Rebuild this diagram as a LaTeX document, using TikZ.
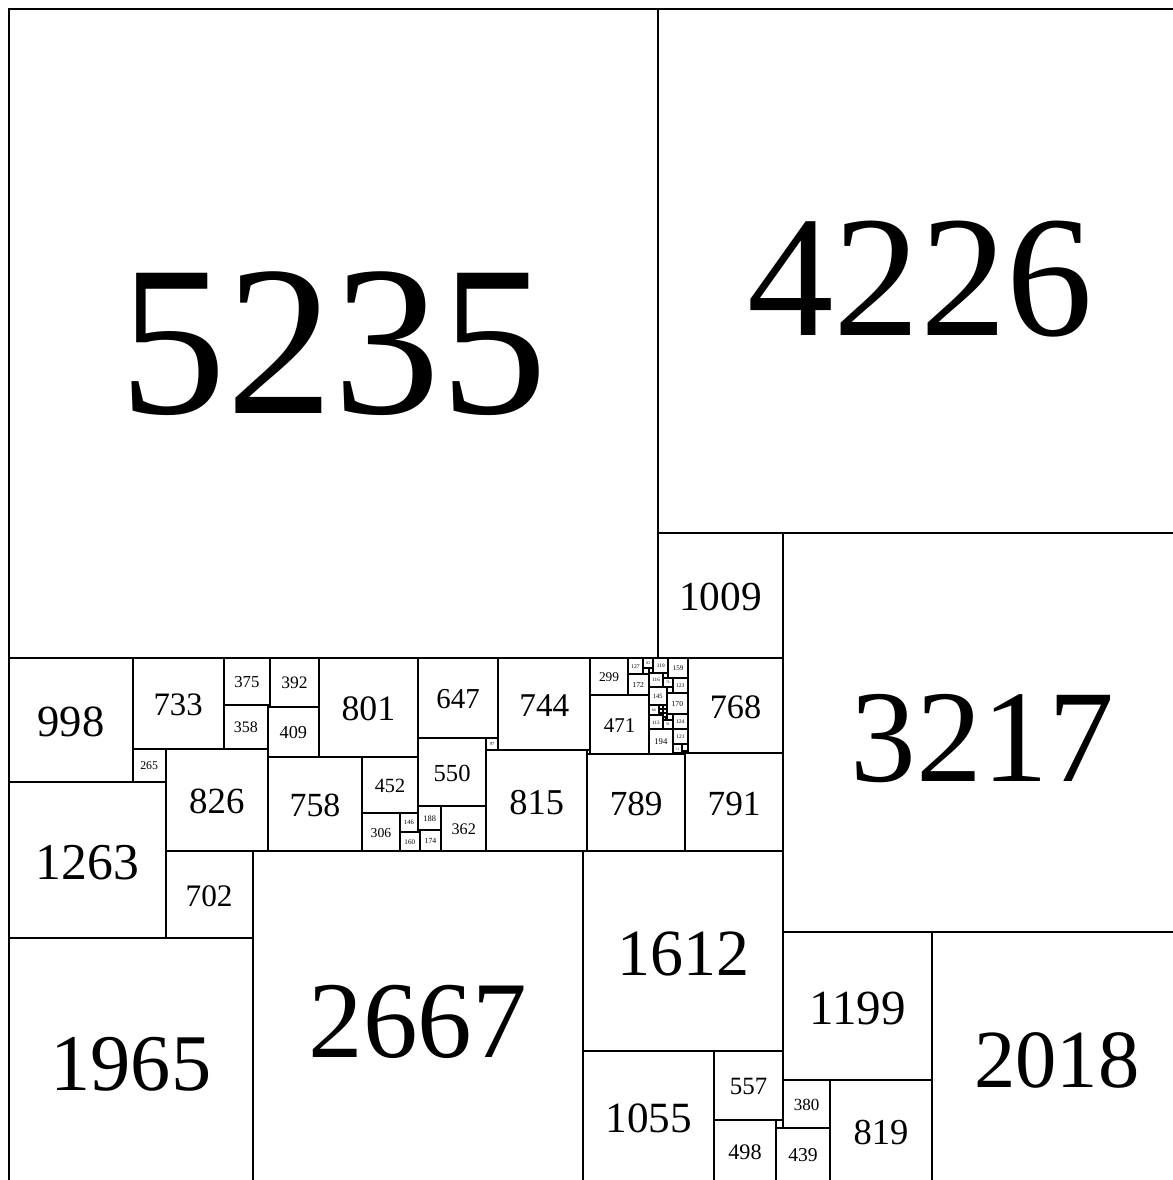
\documentclass[tikz,border=0pt]{standalone}
\usepackage{fontspec}
\setmainfont{Liberation Serif}
\tikzset{
  sqline/.style={draw=black, line width=1pt},
  sqlabel/.style={inner sep=0pt, outer sep=0pt, text=black}
}
\newcommand\sqbox[4]{%
  \draw[sqline] (#2,#3) rectangle ++(#4,#4);
  \pgfmathsetmacro\sqfs{#4>=1000 ? 0.020457*#4 : (#4>=100 ? 0.022317*#4 : 0.023557*#4)}%
  \node[sqlabel, font=\fontsize{\sqfs pt}{\sqfs pt}\selectfont] (#1) at (#2+#4/2, #3+0.515*#4) {#4};
}
\newcommand\sqfill[4]{%
  \draw[sqline] (#2,#3) rectangle ++(#4,#4);
  \coordinate (#1) at (#2+#4/2, #3+#4/2);
}
\begin{document}
\begin{tikzpicture}[x=0.061991pt, y=-0.061991pt]
\useasboundingbox (-72.59,-72.59) rectangle (9388.5,9445.0);
\clip (-72.59,-72.59) rectangle (9388.5,9445.0);
\fill[white] (-72.59,-72.59) rectangle (9388.5,9445.0);
% top
\sqbox{s5235}{0}{0}{5235}
\sqbox{s4226}{5235}{0}{4226}
\sqbox{s1009}{5235}{4226}{1009}
\sqbox{s3217}{6244}{4226}{3217}
% middle band
\sqbox{s998}{0}{5235}{998}
\sqbox{s733}{998}{5235}{733}
\sqbox{s375}{1731}{5235}{375}
\sqbox{s392}{2106}{5235}{392}
\sqbox{s358}{1731}{5610}{358}
\sqfill{s17}{2089}{5610}{17}
\sqbox{s409}{2089}{5627}{409}
\sqbox{s265}{998}{5968}{265}
\sqbox{s826}{1263}{5968}{826}
\sqbox{s1263}{0}{6233}{1263}
\sqbox{s758}{2089}{6036}{758}
\sqbox{s801}{2498}{5235}{801}
\sqbox{s452}{2847}{6036}{452}
\sqbox{s306}{2847}{6488}{306}
\sqbox{s146}{3153}{6488}{146}
\sqbox{s160}{3153}{6634}{160}
\sqfill{s14}{3299}{6620}{14}
\sqbox{s188}{3299}{6432}{188}
\sqbox{s174}{3313}{6620}{174}
\sqbox{s647}{3299}{5235}{647}
\sqbox{s550}{3299}{5882}{550}
\sqbox{s362}{3487}{6432}{362}
\sqbox{s97}{3849}{5882}{97}
\sqbox{s744}{3946}{5235}{744}
\sqbox{s815}{3849}{5979}{815}
\sqfill{s26}{4664}{5979}{26}
\sqbox{s789}{4664}{6005}{789}
\sqbox{s791}{5453}{6003}{791}
\sqbox{s768}{5476}{5235}{768}
\sqbox{s299}{4690}{5235}{299}
\sqbox{s471}{4690}{5534}{471}
\sqbox{s127}{4989}{5235}{127}
\sqbox{s82}{5116}{5235}{82}
\sqbox{s119}{5198}{5235}{119}
\sqbox{s159}{5317}{5235}{159}
\sqbox{s172}{4989}{5362}{172}
\sqfill{s45}{5116}{5317}{45}
\sqfill{s37}{5161}{5317}{37}
\sqbox{s116}{5161}{5354}{116}
\sqfill{s40}{5277}{5354}{40}
\sqbox{s76}{5277}{5394}{76}
\sqbox{s123}{5353}{5394}{123}
\sqbox{s145}{5161}{5470}{145}
\sqfill{s47}{5306}{5470}{47}
\sqbox{s170}{5306}{5517}{170}
\sqbox{s124}{5352}{5687}{124}
\sqbox{s194}{5161}{5811}{194}
\sqbox{s121}{5355}{5811}{121}
\sqbox{s113}{5161}{5698}{113}
\sqbox{s78}{5274}{5733}{78}
\sqbox{s80}{5161}{5615}{80}
% tiny cluster A
\sqfill{fa1}{5241}{5615}{33}
\sqfill{fa2}{5274}{5615}{32}
\sqfill{fa3}{5241}{5648}{33}
\sqfill{fa4}{5274}{5647}{32}
\sqfill{fa5}{5274}{5679}{32}
\sqfill{fa6}{5241}{5681}{17}
\sqfill{fa7}{5258}{5681}{16}
\sqfill{fa8}{5274}{5711}{22}
\sqfill{fa9}{5296}{5711}{10}
\sqfill{fa10}{5306}{5687}{46}
% tiny cluster B
\sqbox{s71}{5355}{5932}{71}
\sqfill{fb1}{5426}{5932}{50}
\sqfill{fb2}{5426}{5982}{21}
\sqfill{fb3}{5447}{5982}{21}
\sqfill{fb4}{5468}{5982}{8}
% lower part
\sqbox{s702}{1263}{6794}{702}
\sqbox{s1965}{0}{7496}{1965}
\sqbox{s2667}{1965}{6794}{2667}
\sqbox{s1612}{4632}{6794}{1612}
\sqbox{s1055}{4632}{8406}{1055}
\sqbox{s557}{5687}{8406}{557}
\sqbox{s498}{5687}{8963}{498}
\sqfill{s59}{6185}{8963}{59}
\sqbox{s439}{6185}{9022}{439}
\sqbox{s380}{6244}{8642}{380}
\sqbox{s819}{6624}{8642}{819}
\sqbox{s1199}{6244}{7443}{1199}
\sqbox{s2018}{7443}{7443}{2018}
\end{tikzpicture}
\end{document}
